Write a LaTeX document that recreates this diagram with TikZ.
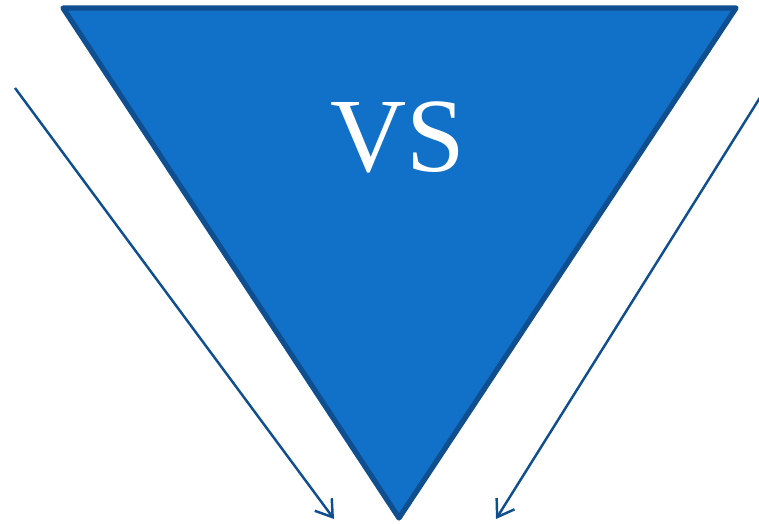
\documentclass[tikz,border=0pt]{standalone}
\usepackage{fontspec}
\setmainfont{Liberation Serif}
\usetikzlibrary{arrows.meta,positioning}
\definecolor{vsfill}{HTML}{1170C8}
\definecolor{vsline}{HTML}{0F4E8F}
\begin{document}
\begin{tikzpicture}[x=0.02cm,y=-0.02cm]
      \tikzset{tri/.style={fill=vsfill,draw=vsline,line width=3pt,line join=round},
               arr/.style={draw=vsline,line width=1.4pt,-{Straight Barb[length=9pt,width=12pt]}}}
      \useasboundingbox (0,0) rectangle (759,523);
      % the triangle
      \coordinate (tl) at (63,8);
      \coordinate (tr) at (736,8);
      \coordinate (bt) at (399,518);
      \draw[tri] (tl) -- (tr) -- (bt) -- cycle;
      \node[text=white,font=\fontsize{60}{60}\selectfont] (vs) at (398,137) {VS};

      % the two arrows
      \coordinate (l1) at (15,88);
      \coordinate (l2) at (334,519);
      \coordinate (r1) at (761,96);
      \coordinate (r2) at (496,519);
      \draw[arr] (l1) -- (l2);
      \draw[arr] (r1) -- (r2);
\end{tikzpicture}
\end{document}
